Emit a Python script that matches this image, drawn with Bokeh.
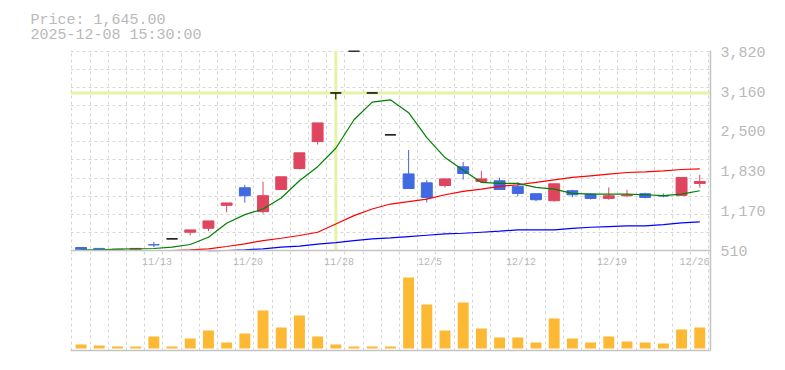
import numpy as np
from bokeh.plotting import figure
from bokeh.models import (Range1d, FixedTicker, NumeralTickFormatter, Span, Title,
                          Grid, LinearAxis)
from bokeh.embed import file_html
from bokeh.resources import INLINE

# ---------------- data ----------------
dates = ["11/7", "11/10", "11/11", "11/12", "11/13", "11/14", "11/17", "11/18",
         "11/19", "11/20", "11/21", "11/25", "11/26", "11/27", "11/28", "12/1",
         "12/2", "12/3", "12/4", "12/5", "12/8", "12/9", "12/10", "12/11",
         "12/12", "12/15", "12/16", "12/17", "12/18", "12/19", "12/22", "12/23",
         "12/24", "12/25", "12/26"]
opens = [560, 545, 515, 513, 606, 704, 815, 881, 1264, 1558, 1159, 1530, 1879,
         2329, 3141, 3841, 3141, 2441, 1789, 1640, 1595, 1907, 1663, 1674, 1585,
         1458, 1342, 1508, 1452, 1380, 1425, 1458, 1425, 1430, 1630]
highs = [562, 546, 531, 545, 654, 704, 854, 1004, 1304, 1608, 1658, 1741, 2141,
         2641, 3141, 3841, 3141, 2441, 2188, 1684, 1706, 1990, 1839, 1724, 1647,
         1458, 1624, 1524, 1469, 1562, 1524, 1474, 1463, 1730, 1774]
lows = [512, 510, 512, 512, 565, 704, 760, 832, 1148, 1308, 1125, 1530, 1863,
        2279, 3033, 3841, 3141, 2441, 1545, 1313, 1562, 1695, 1647, 1530, 1412,
        1330, 1325, 1397, 1363, 1358, 1397, 1380, 1397, 1430, 1562]
closes = [522, 516, 530, 545, 604, 704, 854, 1004, 1304, 1425, 1425, 1741, 2141,
          2641, 3141, 3841, 3141, 2441, 1545, 1396, 1706, 1796, 1706, 1530, 1462,
          1358, 1624, 1441, 1380, 1425, 1436, 1397, 1420, 1730, 1663]
ma_short = [521, 521, 532, 538, 543, 565, 610, 732, 965, 1109, 1203, 1386, 1674,
            1910, 2217, 2694, 2988, 3027, 2811, 2395, 2062, 1852, 1647, 1630, 1630,
            1563, 1535, 1463, 1452, 1452, 1452, 1441, 1425, 1452, 1508]
ma_mid = [np.nan] * 5 + [510, 521, 538, 577, 621, 676, 715, 760, 815, 953, 1092,
                         1203, 1286, 1325, 1369, 1441, 1497, 1535, 1580, 1608,
                         1647, 1691, 1730, 1757, 1785, 1813, 1824, 1841, 1863, 1874]
ma_long = [np.nan] * 7 + [508, 510, 521, 538, 565, 582, 616, 643, 676, 704, 721,
                          743, 765, 787, 798, 815, 832, 854, 854, 854, 881, 898,
                          909, 920, 920, 942, 970, 987]
volume = [400, 300, 200, 200, 1200, 200, 1000, 1800, 600, 1500, 3800, 2100, 3300,
          1200, 400, 200, 200, 200, 7100, 4400, 1800, 4600, 2000, 1100, 1100, 600,
          3000, 1000, 600, 1200, 700, 600, 500, 1900, 2100]
tick_dates = ["11/13", "11/20", "11/28", "12/5", "12/12", "12/19", "12/26"]
price_ticks = [510, 1170, 1830, 2500, 3160, 3820]
cross_date = "11/28"
cross_price = 3141
header_price = "Price: 1,645.00"
header_time = "2025-12-08 15:30:00"

# ---------------- styling ----------------
UP = "#e0455f"
DOWN = "#4169e1"
FLAT = "#000000"
VOL = "#fdb834"
GRID = "#d6d6d6"
AXIS = "#c4c4c4"
TXT = "#b9b9b9"
CROSS = "#e4f3a6"
MONO = "Liberation Mono"

x = list(range(len(dates)))
colors = [UP if c > o else (DOWN if c < o else FLAT) for o, c in zip(opens, closes)]

x_start, x_end = -0.58, 34.59
frame_w = 640
px_per_unit = frame_w / (x_end - x_start)

# price scale: 510 sits at 2/3 of the frame height, 3850 at the top
p_lo, p_hi = 510, 3850
p_start = p_lo - (p_hi - p_lo) / 2.0
# volume scale: lower third of the frame
v_start = -200
v_panel_top = 9800
v_end = v_start + (v_panel_top - v_start) * 3

p = figure(width=780, height=365, x_range=Range1d(x_start, x_end),
           y_range=Range1d(p_start, p_hi),
           output_backend="svg", toolbar_location=None,
           x_axis_location="below", y_axis_location="right",
           min_border_left=70, min_border_right=70, min_border_top=50,
           min_border_bottom=15)
p.extra_y_ranges = {"vol": Range1d(v_start, v_end)}
p.outline_line_color = None
for g in p.grid:
    g.visible = False

ax = p.yaxis[0]
ax.ticker = FixedTicker(ticks=price_ticks)
ax.formatter = NumeralTickFormatter(format="0,0")
ax.axis_line_color = AXIS
ax.axis_line_width = 1.5
ax.major_tick_line_color = None
ax.minor_tick_line_color = None
ax.major_tick_out = 0
ax.major_label_standoff = 10
ax.major_label_text_font = MONO
ax.major_label_text_font_size = "15px"
ax.major_label_text_color = TXT

# bottom border of the volume panel
xa = p.xaxis[0]
xa.ticker = FixedTicker(ticks=[])
xa.axis_line_color = AXIS
xa.axis_line_width = 1.5
xa.major_tick_line_color = None
xa.minor_tick_line_color = None
xa.major_tick_out = 0
xa.major_label_standoff = 0
xa.major_label_text_font_size = "0px"

grid_x = [i - 0.5 for i in range(len(dates) + 1)]
p.add_layout(Grid(dimension=0, ticker=FixedTicker(ticks=grid_x),
                  grid_line_color=GRID, grid_line_dash="3 3"))
p.add_layout(Grid(dimension=1,
                  ticker=FixedTicker(ticks=list(np.linspace(p_lo, 3838, 12))),
                  grid_line_color=GRID, grid_line_dash="3 3"))

# separator between price and volume panels
p.add_layout(Span(location=p_lo, dimension="width", line_color=AXIS, line_width=1.5))

# date axis drawn at the panel separator, labels falling into the volume panel
half_label = 16 / px_per_unit   # half width of a 5-char label, in x units
date_pos = [min(dates.index(d) + 0.18, x_end - half_label) for d in tick_dates]
date_axis = LinearAxis(fixed_location=p_lo, ticker=FixedTicker(ticks=date_pos),
                       major_label_overrides={t: d for t, d in zip(date_pos, tick_dates)},
                       axis_line_color=None, major_tick_line_color=None,
                       minor_tick_line_color=None, major_tick_out=0,
                       major_label_standoff=6, major_label_text_font=MONO,
                       major_label_text_font_size="10px",
                       major_label_text_color=TXT)
p.add_layout(date_axis, "below")

# crosshair
cx = dates.index(cross_date)
p.segment(x0=[cx], y0=[p_lo], x1=[cx], y1=[p_hi], line_color=CROSS, line_width=3)
p.add_layout(Span(location=cross_price, dimension="width",
                  line_color=CROSS, line_width=3, level="underlay"))

# candles
p.segment(x0=x, y0=lows, x1=x, y1=highs, line_color=colors, line_width=1)
p.vbar(x=x, width=0.6, top=opens, bottom=closes, fill_color=colors,
       line_color=colors, line_width=1)

# moving averages
p.line(x, ma_mid, line_color="#ff0000", line_width=1.2)
p.line(x, ma_long, line_color="#0000ff", line_width=1.2)
p.line(x, ma_short, line_color="#008000", line_width=1.2)

# volume
p.vbar(x=x, width=0.6, top=volume, bottom=0, fill_color=VOL, line_color=None,
       y_range_name="vol")

# header texts
p.add_layout(Title(text=header_price + "\n" + header_time, align="left",
                   offset=-40, standoff=12, text_font=MONO, text_font_size="15px",
                   text_font_style="normal", text_line_height=0.9,
                   text_color=TXT), "above")

open("out.html", "w").write(file_html(p, INLINE))
